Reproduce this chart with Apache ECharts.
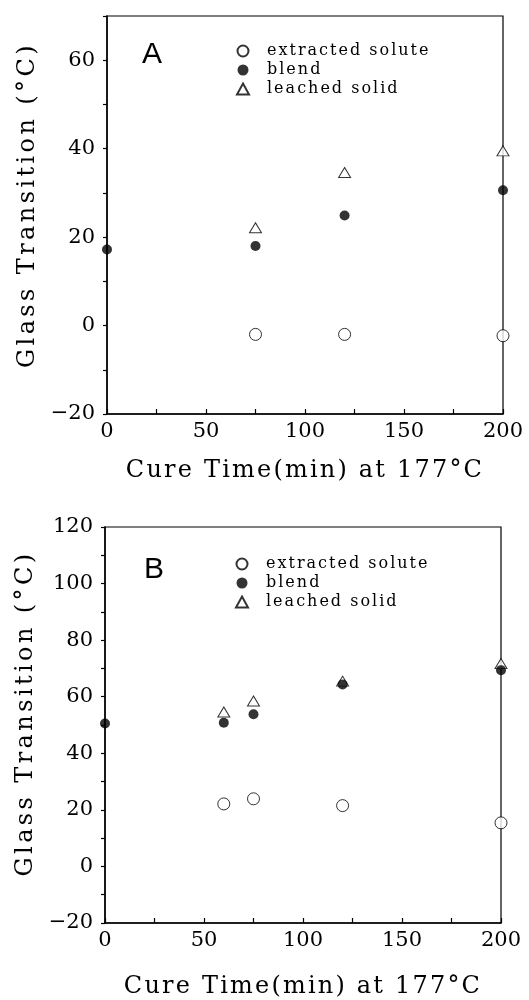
<!DOCTYPE html>
<html>
<head>
<meta charset="utf-8">
<script src="https://cdn.jsdelivr.net/npm/echarts@6/dist/echarts.min.js"></script>
<style>
html,body{margin:0;padding:0;background:#fff;}
#chart{width:529px;height:1000px;}
</style>
</head>
<body>
<div id="chart"></div>
<script>
// ---- data ----
var seriesNames = ['extracted solute', 'blend', 'leached solid'];
// Panel A
var aSoluteX = [75, 120, 200];
var aSoluteY = [-2.0, -2.0, -2.3];
var aBlendX = [0, 75, 120, 200];
var aBlendY = [17.2, 18.0, 24.9, 30.6];
var aSolidX = [75, 120, 200];
var aSolidY = [22.1, 34.6, 39.5];
// Panel B
var bSoluteX = [60, 75, 120, 200];
var bSoluteY = [22.1, 23.9, 21.5, 15.4];
var bBlendX = [0, 60, 75, 120, 200];
var bBlendY = [50.5, 50.8, 53.8, 64.3, 69.4];
var bSolidX = [60, 75, 120, 200];
var bSolidY = [54.6, 58.5, 65.5, 71.7];

var xTitle = 'Cure Time(min) at 177°C';
var yTitle = 'Glass Transition (°C)';
var panelLabels = ['A', 'B'];

// wide typewriter-like letter spacing of the original lettering (falls back gracefully)
var SPACING = {};
SPACING[xTitle] = 2.2;
SPACING[yTitle] = 3.4;
seriesNames.forEach(function (n) { SPACING[n] = 2; });
(function () {
  var proto = window.CanvasRenderingContext2D && CanvasRenderingContext2D.prototype;
  if (!proto || !('letterSpacing' in proto)) return;
  var orig = proto.fillText;
  proto.fillText = function (t) {
    var sp = Object.prototype.hasOwnProperty.call(SPACING, t) ? SPACING[t] : 0;
    var f = this.font;
    this.letterSpacing = sp + 'px';
    this.font = f;
    var r = orig.apply(this, arguments);
    if (sp) {
      this.letterSpacing = '0px';
      this.font = f;
    }
    return r;
  };
})();

function pts(xs, ys) { return xs.map(function (x, i) { return [x, ys[i]]; }); }
function fmtNum(v) { return v < 0 ? '\u2212' + String(-v) : String(v); }

var SERIF = '"DejaVu Serif", "Liberation Serif", serif';

function xAxisCfg(gi, gap) {
  return {
    type: 'value', gridIndex: gi, min: 0, max: 200, interval: 25,
    name: xTitle, nameLocation: 'middle', nameGap: gap,
    nameTextStyle: { fontFamily: SERIF, fontSize: 24, color: '#000' },
    axisLine: { show: true, onZero: false, lineStyle: { color: '#000', width: 1.5 } },
    axisTick: { show: true, inside: true, length: 5, lineStyle: { color: '#000', width: 1.2 } },
    axisLabel: { margin: 7, fontFamily: SERIF, fontSize: 21, color: '#000',
      formatter: function (v) { return v % 50 === 0 ? fmtNum(v) : ''; } },
    splitLine: { show: false }
  };
}
function yAxisCfg(gi, mn, mx, pad) {
  return {
    type: 'value', gridIndex: gi, min: mn, max: mx, interval: 10,
    name: yTitle, nameLocation: 'middle', nameGap: 64,
    nameTextStyle: { fontFamily: SERIF, fontSize: 24, color: '#000', padding: [0, 0, 0, pad] },
    axisLine: { show: true, onZero: false, lineStyle: { color: '#000', width: 1.5 } },
    axisTick: { show: true, inside: false, length: 4, lineStyle: { color: '#000', width: 1.2 } },
    axisLabel: { margin: 12, fontFamily: SERIF, fontSize: 21, color: '#000',
      formatter: function (v) { return v % 20 === 0 ? fmtNum(v) : ''; } },
    splitLine: { show: false }
  };
}
var openCircle = { color: '#fff', borderColor: '#000', borderWidth: 1 };
var filled = { color: '#000', borderColor: '#000', borderWidth: 0 };
var openTri = { color: '#fff', borderColor: '#000', borderWidth: 1 };

function seriesFor(gi, sol, bl, so) {
  return [
    { type: 'scatter', name: seriesNames[0], xAxisIndex: gi, yAxisIndex: gi, data: sol,
      symbol: 'circle', symbolSize: 12, itemStyle: openCircle, clip: false, z: 3 },
    { type: 'scatter', name: seriesNames[2], xAxisIndex: gi, yAxisIndex: gi, data: so,
      symbol: 'triangle', symbolSize: [12, 10], itemStyle: openTri, clip: false, z: 3 },
    { type: 'scatter', name: seriesNames[1], xAxisIndex: gi, yAxisIndex: gi, data: bl,
      symbol: 'circle', symbolSize: 10, itemStyle: filled, clip: false, z: 4 }
  ];
}

var legendText = { fontFamily: SERIF, fontSize: 16, color: '#000', padding: [0, 0, 0, 13] };

var option = {
  backgroundColor: '#fff',
  animation: false,
  grid: [
    { left: 107, top: 16, width: 396, height: 398, show: true, borderColor: '#000', borderWidth: 1.2, backgroundColor: 'transparent' },
    { left: 105, top: 527, width: 396, height: 399, show: true, borderColor: '#000', borderWidth: 1.2, backgroundColor: 'transparent' }
  ],
  xAxis: [xAxisCfg(0, 45), xAxisCfg(1, 52)],
  yAxis: [yAxisCfg(0, -20, 70, 20), yAxisCfg(1, -20, 120, 23)],
  legend: [
    { data: seriesNames, orient: 'vertical', left: 236, top: 43, padding: 0,
      itemWidth: 12, itemHeight: 11, itemGap: 3, textStyle: legendText, selectedMode: false },
    { data: seriesNames, orient: 'vertical', left: 235, top: 556, padding: 0,
      itemWidth: 12, itemHeight: 11, itemGap: 3, textStyle: legendText, selectedMode: false }
  ],
  graphic: [
    { type: 'text', left: 142, top: 40, style: { text: panelLabels[0], font: '30px "Liberation Sans", Arial, sans-serif', fill: '#000' } },
    { type: 'text', left: 144, top: 555, style: { text: panelLabels[1], font: '30px "Liberation Sans", Arial, sans-serif', fill: '#000' } }
  ],
  series: [].concat(
    seriesFor(0, pts(aSoluteX, aSoluteY), pts(aBlendX, aBlendY), pts(aSolidX, aSolidY)),
    seriesFor(1, pts(bSoluteX, bSoluteY), pts(bBlendX, bBlendY), pts(bSolidX, bSolidY))
  )
};
var chart = echarts.init(document.getElementById('chart'), null, { renderer: 'canvas' });
chart.setOption(option);
</script>
</body>
</html>
